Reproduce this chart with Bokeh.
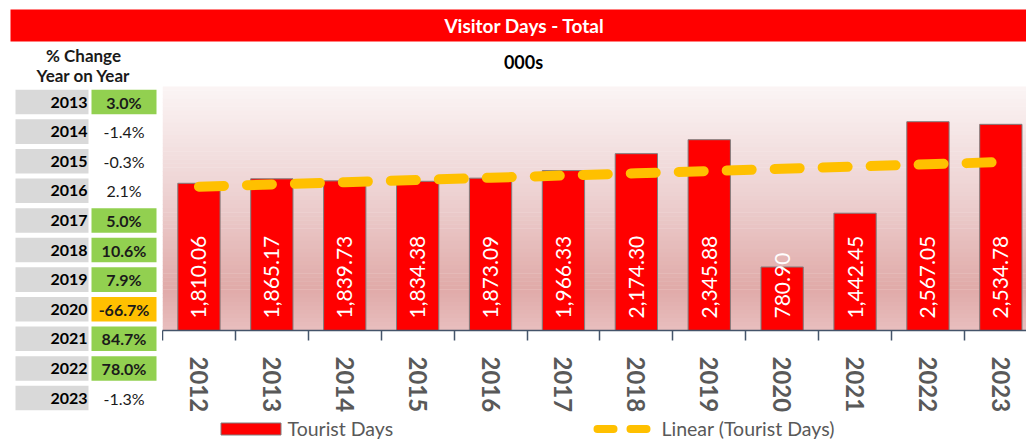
import numpy as np
from bokeh.plotting import figure
from bokeh.models import (Range1d, FixedTicker, ColumnDataSource, Legend, LegendItem,
                          BoxAnnotation)
from bokeh.layouts import column, row
from bokeh.embed import file_html
from bokeh.resources import INLINE
from bokeh.core.properties import value

# ---------------- data ----------------
years = ["2012", "2013", "2014", "2015", "2016", "2017",
         "2018", "2019", "2020", "2021", "2022", "2023"]
tourist_days = [1810.06, 1865.17, 1839.73, 1834.38, 1873.09, 1966.33,
                2174.30, 2345.88, 780.90, 1442.45, 2567.05, 2534.78]
pct_years = ["2013", "2014", "2015", "2016", "2017", "2018",
             "2019", "2020", "2021", "2022", "2023"]
pct_change = [3.0, -1.4, -0.3, 2.1, 5.0, 10.6, 7.9, -66.7, 84.7, 78.0, -1.3]

FONT = "Lato"
RED = "#ff0000"
GREEN = "#92d050"
ORANGE = "#ffc000"
GREY_CELL = "#d9d9d9"
AXIS = "#44546a"
TXT_GREY = "#595959"

common = dict(output_backend="svg", toolbar_location=None)

# ---------------- header bar ----------------
header = figure(width=1026, height=44, x_range=Range1d(0, 1016), y_range=Range1d(0, 32),
                x_axis_type=None, y_axis_type=None,
                min_border_left=10, min_border_right=0, min_border_top=9, min_border_bottom=3,
                background_fill_color=RED, border_fill_color="white",
                outline_line_color=None, **common)
header.frame_align = False
header.text(x=[514], y=[16], text=["Visitor Days - Total"], text_color="white",
            text_font=value(FONT), text_font_style="bold", text_font_size="19px",
            text_align="center", text_baseline="middle")

# ---------------- % change table ----------------
rows = list(range(len(pct_years)))
cell_colors = [GREEN if v >= 3 else (ORANGE if v <= -10 else "white") for v in pct_change]
styles = ["bold" if c != "white" else "normal" for c in cell_colors]
tsrc = ColumnDataSource(dict(row=rows, year=pct_years,
                             pct=[f"{v:.1f}%" for v in pct_change],
                             color=cell_colors, style=styles))

tbl = figure(width=162, height=371, x_range=Range1d(0, 162), y_range=Range1d(10.59, -1.943),
             x_axis_type=None, y_axis_type=None, min_border=0,
             outline_line_color=None, **common)
tbl.frame_align = False
tbl.rect(x=51.5, y="row", width=73, height=0.83, fill_color=GREY_CELL, line_color=None, source=tsrc)
tbl.rect(x=123.5, y="row", width=65, height=0.83, fill_color="color", line_color=None, source=tsrc)
tbl.text(x=87, y="row", text="year", text_font=value(FONT), text_font_style="bold",
         text_font_size="16px", text_color="black", text_align="right",
         text_baseline="middle", source=tsrc)
tbl.text(x=123.5, y="row", text="pct", text_font=value(FONT), text_font_style="style",
         text_font_size="16px", text_color="#1a1a1a", text_align="center",
         text_baseline="middle", source=tsrc)
tbl.text(x=83, y=[-1.58, -0.9], text=["% Change", "Year on Year"],
         text_font=value(FONT), text_font_style="bold", text_font_size="17px",
         text_color="#1a1a1a", text_align="center", text_baseline="middle")

# ---------------- "000s" subtitle strip ----------------
sub = figure(width=864, height=30, x_range=Range1d(0, 864), y_range=Range1d(0, 30),
             x_axis_type=None, y_axis_type=None, min_border=0,
             outline_line_color=None, **common)
sub.frame_align = False
sub.text(x=[361], y=[12.5], text=["000s"], text_font=value(FONT), text_font_style="bold",
         text_font_size="18px", text_color="black", text_align="center",
         text_baseline="middle")

# ---------------- main chart ----------------
year_nums = [int(y) for y in years]
p = figure(width=864, height=341,
           x_range=Range1d(year_nums[0] - 0.5, year_nums[0] - 0.5 + 864 / 72.9),
           y_range=Range1d(0, 3000), y_axis_type=None,
           min_border_left=0, min_border_right=0, min_border_top=12, min_border_bottom=83,
           outline_line_color=None, background_fill_color="white", **common)
p.frame_align = False
p.grid.visible = False

# gradient background of plot area
stops = [(0.0, (251, 245, 245)), (0.45, (237, 209, 209)), (0.83, (224, 170, 168)), (1.0, (232, 190, 190))]
def grad(t):
    for (t0, c0), (t1, c1) in zip(stops[:-1], stops[1:]):
        if t <= t1:
            f = (t - t0) / (t1 - t0)
            return "#%02x%02x%02x" % tuple(int(round(a + (b - a) * f)) for a, b in zip(c0, c1))
    return "#%02x%02x%02x" % stops[-1][1]
N = 60
ymax = p.y_range.end
for k in range(N):
    t = (k + 0.5) / N
    p.add_layout(BoxAnnotation(top=ymax * (1 - k / N) + 5, bottom=ymax * (1 - (k + 1) / N),
                               fill_color=grad(t), fill_alpha=1, line_color=None,
                               level="underlay"))

src = ColumnDataSource(dict(x=year_nums, top=tourist_days,
                            label=[f"{v:,.2f}" for v in tourist_days],
                            base=[0] * len(years)))
p.vbar(x="x", top="top", width=0.58, fill_color=RED, line_color="#7f7f7f",
       line_width=1, source=src)
p.text(x="x", y="base", text="label", angle=np.pi / 2, text_align="left",
       text_baseline="middle", y_offset=-12, text_color="white",
       text_font=value(FONT), text_font_size="21px", source=src)

coef = np.polyfit(year_nums, tourist_days, 1)
trend = np.polyval(coef, year_nums)
p.line(year_nums, trend, line_color=ORANGE, line_width=10, line_cap="round",
       line_dash="25 23")

xa = p.xaxis[0]
xa.ticker = FixedTicker(ticks=year_nums,
                        minor_ticks=[y - 0.5 for y in year_nums] + [year_nums[-1] + 0.5])
xa.major_label_overrides = {y: s for y, s in zip(year_nums, years)}
xa.major_label_orientation = "vertical"
xa.major_tick_line_color = None
xa.major_tick_out = 0
xa.major_tick_in = 0
xa.minor_tick_line_color = AXIS
xa.minor_tick_out = 10
xa.minor_tick_in = 0
xa.minor_tick_line_width = 1.5
xa.axis_line_color = AXIS
xa.axis_line_width = 1.5
xa.major_label_text_font = FONT
xa.major_label_text_font_size = "24px"
xa.major_label_text_font_style = "bold"
xa.major_label_text_color = TXT_GREY
xa.major_label_standoff = 16

# ---------------- legend strip ----------------
leg = figure(width=1026, height=25, x_range=Range1d(0, 1), y_range=Range1d(0, 1),
             x_axis_type=None, y_axis_type=None, min_border=0,
             outline_line_color=None, **common)
leg.frame_align = False
r_bar = leg.vbar(x=[5], top=[1], width=0.5, fill_color=RED, line_color="#7f7f7f", line_width=1)
r_line = leg.line(x=[5, 6], y=[0.5, 0.5], line_color=ORANGE, line_width=8, line_cap="round",
                  line_dash="16 17 16 26", line_dash_offset=65)
legend = Legend(items=[LegendItem(label=value("Tourist Days"), renderers=[r_bar]),
                       LegendItem(label=value("Linear (Tourist Days)"), renderers=[r_line])],
                orientation="horizontal", location=(212.5, 0),
                glyph_width=75, glyph_height=15, label_standoff=0, label_width=290,
                label_height=15, spacing=9, padding=0, margin=0,
                border_line_color=None, background_fill_alpha=0,
                label_text_font=FONT, label_text_font_size="19.5px",
                label_text_color=TXT_GREY)
leg.add_layout(legend)

layout = column(header, row(tbl, column(sub, p)), leg)
open("out.html", "w").write(file_html(layout, INLINE))
